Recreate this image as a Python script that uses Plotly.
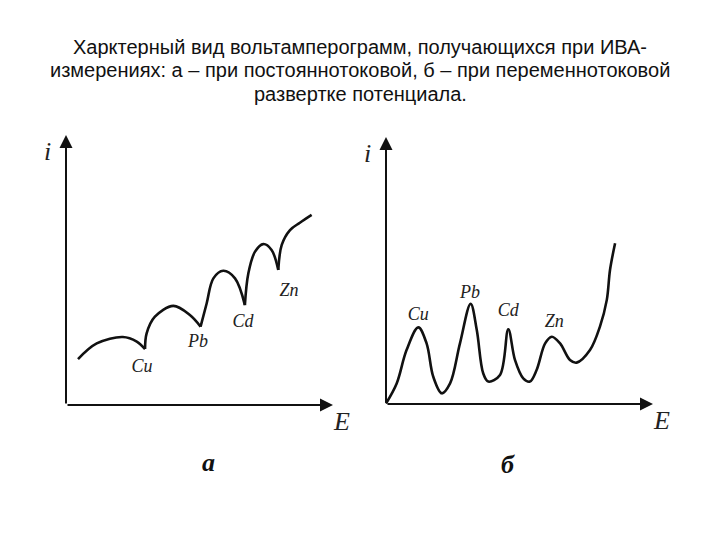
import plotly.graph_objects as go

# ---- data (schematic voltammograms, arbitrary units 0..100) ----
# panel "а": direct-current sweep, a chain of arcs with cusps at each element
DC_ARCS = [
    {'E': [4.5, 11.5, 21.3, 26.5, 29.6], 'i': [17.0, 22.8, 25.2, 23.5, 20.7]},
    {'E': [29.6, 30.2, 33.3, 40.2, 46.4, 50.4], 'i': [20.7, 26.5, 32.7, 36.7, 33.3, 29.0]},
    {'E': [50.4, 52.7, 55.2, 58.9, 63.3, 67.0], 'i': [29.0, 37.7, 46.9, 49.7, 46.9, 37.0]},
    {'E': [67.0, 68.3, 70.8, 73.9, 77.0, 79.5], 'i': [37.0, 48.8, 56.8, 59.6, 57.4, 50.0]},
    {'E': [79.5, 80.8, 83.9, 87.6, 92.0], 'i': [50.0, 59.3, 64.8, 67.5, 70.4]},
]
DC_LABELS = ['Cu', 'Pb', 'Cd', 'Zn']
DC_LABEL_E = [28.5, 49.4, 66.3, 83.5]
DC_LABEL_I = [14.0, 23.0, 30.5, 42.0]

# panel "б": alternating-current sweep, separate peaks
AC_E = [0, 4.0, 7.7, 12.1, 15.2, 17.7, 20.9, 24.0, 27.7, 31.7, 34.0, 36.4, 38.3,
        42.7, 45.8, 48.3, 51.4, 53.9, 56.4, 59.6, 62.1, 65.2, 68.9, 71.4, 76.4,
        80.1, 82.7, 83.9, 85.8]
AC_I = [0.2, 7.7, 20.2, 28.7, 22.7, 10.2, 4.0, 7.7, 22.7, 37.5, 27.7, 11.5, 8.4,
        10.9, 28.0, 16.5, 9.6, 8.4, 12.7, 22.7, 25.2, 22.7, 16.5, 15.5, 20.2,
        28.9, 39.0, 50.2, 60.2]
AC_LABELS = ['Cu', 'Pb', 'Cd', 'Zn']
AC_LABEL_E = [12.1, 31.5, 45.8, 63.0]
AC_LABEL_I = [33.0, 41.2, 34.5, 30.5]

TITLE_LINES = [
    'Харктерный вид вольтамперограмм, получающихся при ИВА-',
    'измерениях: а – при постояннотоковой, б – при переменнотоковой',
    'развертке потенциала.',
]

W, H = 720, 540
PAD = 8  # axis range padding, data units


def frame(x0, x1, y0, y1):
    """Domain for a panel whose 0..100 data box spans the given pixels."""
    sx = (x1 - x0) / 100.0
    sy = (y0 - y1) / 100.0
    dx = [(x0 - PAD * sx) / W, (x1 + PAD * sx) / W]
    dy = [1 - (y0 + PAD * sy) / H, 1 - (y1 - PAD * sy) / H]
    return dx, dy


L_DX, L_DY = frame(66, 333, 405, 135)
R_DX, R_DY = frame(386, 653, 404, 137)

LINE = '#111111'
SERIF = 'Liberation Serif'

fig = go.Figure()

for arc in DC_ARCS:
    fig.add_trace(go.Scatter(
        x=arc['E'], y=arc['i'], mode='lines',
        line=dict(color=LINE, width=2.6, shape='spline', smoothing=1.0),
        xaxis='x', yaxis='y', showlegend=False, hoverinfo='skip',
    ))
fig.add_trace(go.Scatter(
    x=DC_LABEL_E, y=DC_LABEL_I, mode='text', text=DC_LABELS,
    textfont=dict(family=SERIF, size=18, color='#222', style='italic'),
    xaxis='x', yaxis='y', showlegend=False, hoverinfo='skip',
))

fig.add_trace(go.Scatter(
    x=AC_E, y=AC_I, mode='lines',
    line=dict(color=LINE, width=2.6, shape='spline', smoothing=1.0),
    xaxis='x2', yaxis='y2', showlegend=False, hoverinfo='skip',
))
fig.add_trace(go.Scatter(
    x=AC_LABEL_E, y=AC_LABEL_I, mode='text', text=AC_LABELS,
    textfont=dict(family=SERIF, size=18, color='#222', style='italic'),
    xaxis='x2', yaxis='y2', showlegend=False, hoverinfo='skip',
))

# axes with arrowheads
for xr, yr in [('x', 'y'), ('x2', 'y2')]:
    for tip in [(100, 0), (0, 100)]:
        fig.add_annotation(
            x=tip[0], y=tip[1], ax=0, ay=0, xref=xr, yref=yr,
            axref=xr, ayref=yr, showarrow=True, text='',
            arrowhead=2, arrowsize=1.3, arrowwidth=2, arrowcolor=LINE,
        )
    fig.add_annotation(x=-7, y=94, xref=xr, yref=yr, text='<i>i</i>',
                       showarrow=False, font=dict(family=SERIF, size=26, color='#222'))
    fig.add_annotation(x=103, y=-6, xref=xr, yref=yr, text='<i>E</i>',
                       showarrow=False, font=dict(family=SERIF, size=26, color='#222'))

# panel letters
fig.add_annotation(x=200 / W, y=1 - 462 / H, xref='paper', yref='paper',
                   text='<b><i>а</i></b>', showarrow=False, yanchor='middle',
                   font=dict(family=SERIF, size=26, color='#111'))
fig.add_annotation(x=517 / W, y=1 - 464 / H, xref='paper', yref='paper',
                   text='<b><i>б</i></b>', showarrow=False, yanchor='middle',
                   font=dict(family=SERIF, size=26, color='#111'))

for k, line in enumerate(TITLE_LINES):
    fig.add_annotation(
        x=0.5, y=1 - (47 + 23.5 * k) / H, xref='paper', yref='paper', text=line,
        showarrow=False, xanchor='center', yanchor='middle',
        font=dict(family='Liberation Sans', size=20, color='#111'),
    )

axis_common = dict(range=[-PAD, 100 + PAD], showgrid=False, zeroline=False,
                   showticklabels=False, showline=False, ticks='', fixedrange=True)

fig.update_layout(
    width=W, height=H,
    margin=dict(l=0, r=0, t=0, b=0),
    paper_bgcolor='white', plot_bgcolor='rgba(0,0,0,0)',
    showlegend=False,
    xaxis=dict(domain=L_DX, anchor='y', **axis_common),
    yaxis=dict(domain=L_DY, anchor='x', **axis_common),
    xaxis2=dict(domain=R_DX, anchor='y2', **axis_common),
    yaxis2=dict(domain=R_DY, anchor='x2', **axis_common),
)

fig.write_html('out.html', config={'displayModeBar': False},
               post_script="document.body.style.margin='0';")
